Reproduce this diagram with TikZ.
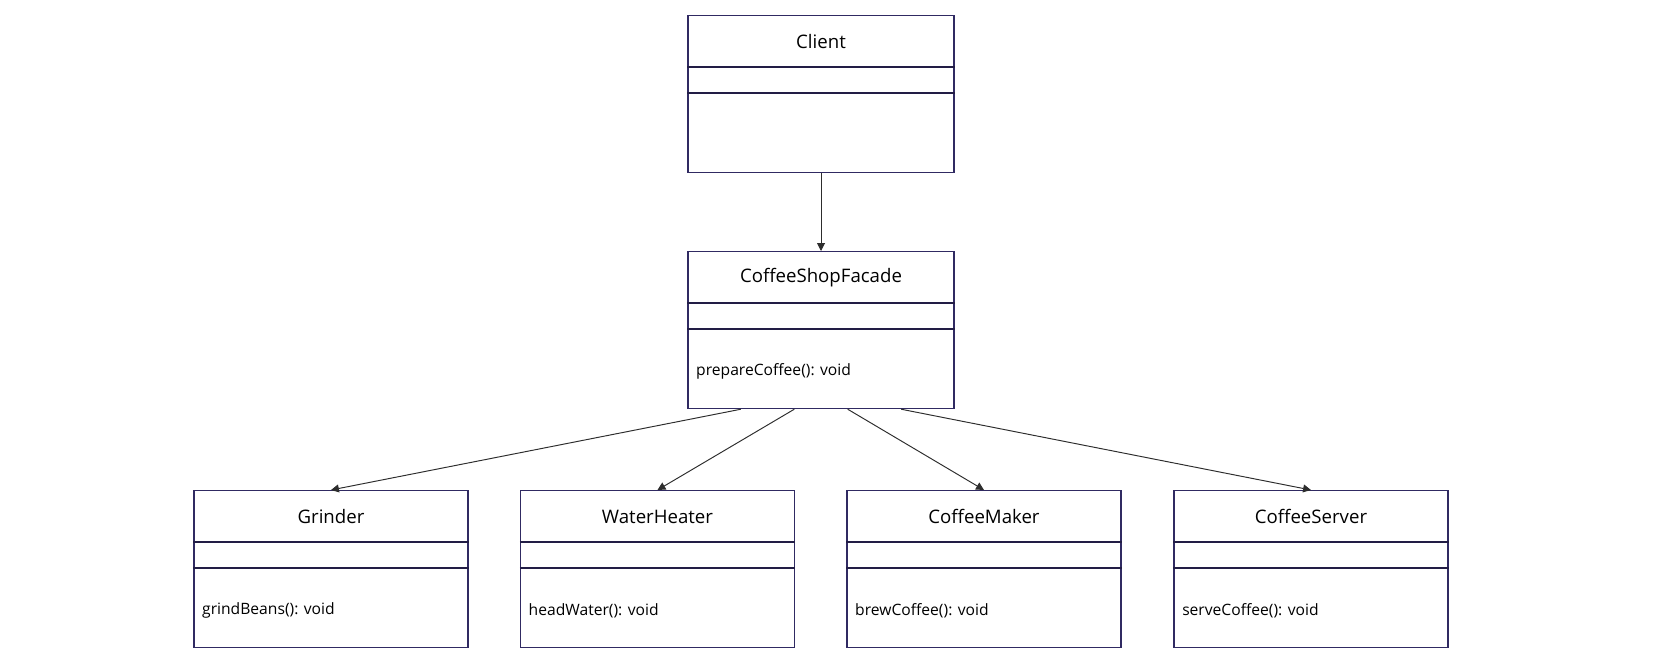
\documentclass[tikz,border=0pt]{standalone}
\usepackage{fontspec}
\setmainfont{Open Sans}
\usepackage{tikz}
\usetikzlibrary{arrows.meta, calc, positioning}
\usepackage{xcolor}
\definecolor{boxline}{RGB}{48,42,98}
\definecolor{arrowcol}{RGB}{45,45,45}

\newcommand{\umlclass}[5][]{%
  \node[classbox, #1] (#2) at (#3) {};
  \draw[divider] ([yshift=-1.04cm]#2.north west) -- ([yshift=-1.04cm]#2.north east);
  \draw[divider] ([yshift=-1.56cm]#2.north west) -- ([yshift=-1.56cm]#2.north east);
  \node[classname] (#2-name) at ([yshift=-0.53cm]#2.north) {#4};
  \node[method] (#2-ops) at ([xshift=0.17cm,yshift=-2.41cm]#2.north west) {#5};
}

\begin{document}
\begin{tikzpicture}[
    classbox/.style={draw=boxline, line width=0.7pt, minimum width=5.48cm, minimum height=3.14cm, anchor=north, inner sep=0pt},
    narrow/.style={minimum width=5.32cm},
    divider/.style={draw=boxline!70!black, line width=0.7pt},
    classname/.style={font=\fontsize{10.6}{12}\selectfont, inner sep=0pt},
    method/.style={font=\fontsize{8.9}{11}\selectfont, anchor=west, inner sep=0pt},
    link/.style={draw=arrowcol, line width=0.55pt, -{Triangle[length=4.5pt,width=4.5pt]}}
  ]
    \useasboundingbox (0,0) rectangle (33.22,-13.22);
    \umlclass[narrow]{client}{16.42,-0.30}{Client}{}
    \umlclass[narrow]{facade}{16.42,-5.02}{CoffeeShopFacade}{prepareCoffee(): void}
    \umlclass{grinder}{6.62,-9.80}{Grinder}{grindBeans(): void}
    \umlclass{heater}{13.15,-9.80}{WaterHeater}{headWater(): void}
    \umlclass{maker}{19.68,-9.80}{CoffeeMaker}{brewCoffee(): void}
    \umlclass{server}{26.22,-9.80}{CoffeeServer}{serveCoffee(): void}

    \draw[link] (client.south) -- (facade.north);
    \draw[link] ($(facade.south west)!0.2!(facade.south east)$) -- (grinder.north);
    \draw[link] ($(facade.south west)!0.4!(facade.south east)$) -- (heater.north);
    \draw[link] ($(facade.south west)!0.6!(facade.south east)$) -- (maker.north);
    \draw[link] ($(facade.south west)!0.8!(facade.south east)$) -- (server.north);
\end{tikzpicture}
\end{document}
